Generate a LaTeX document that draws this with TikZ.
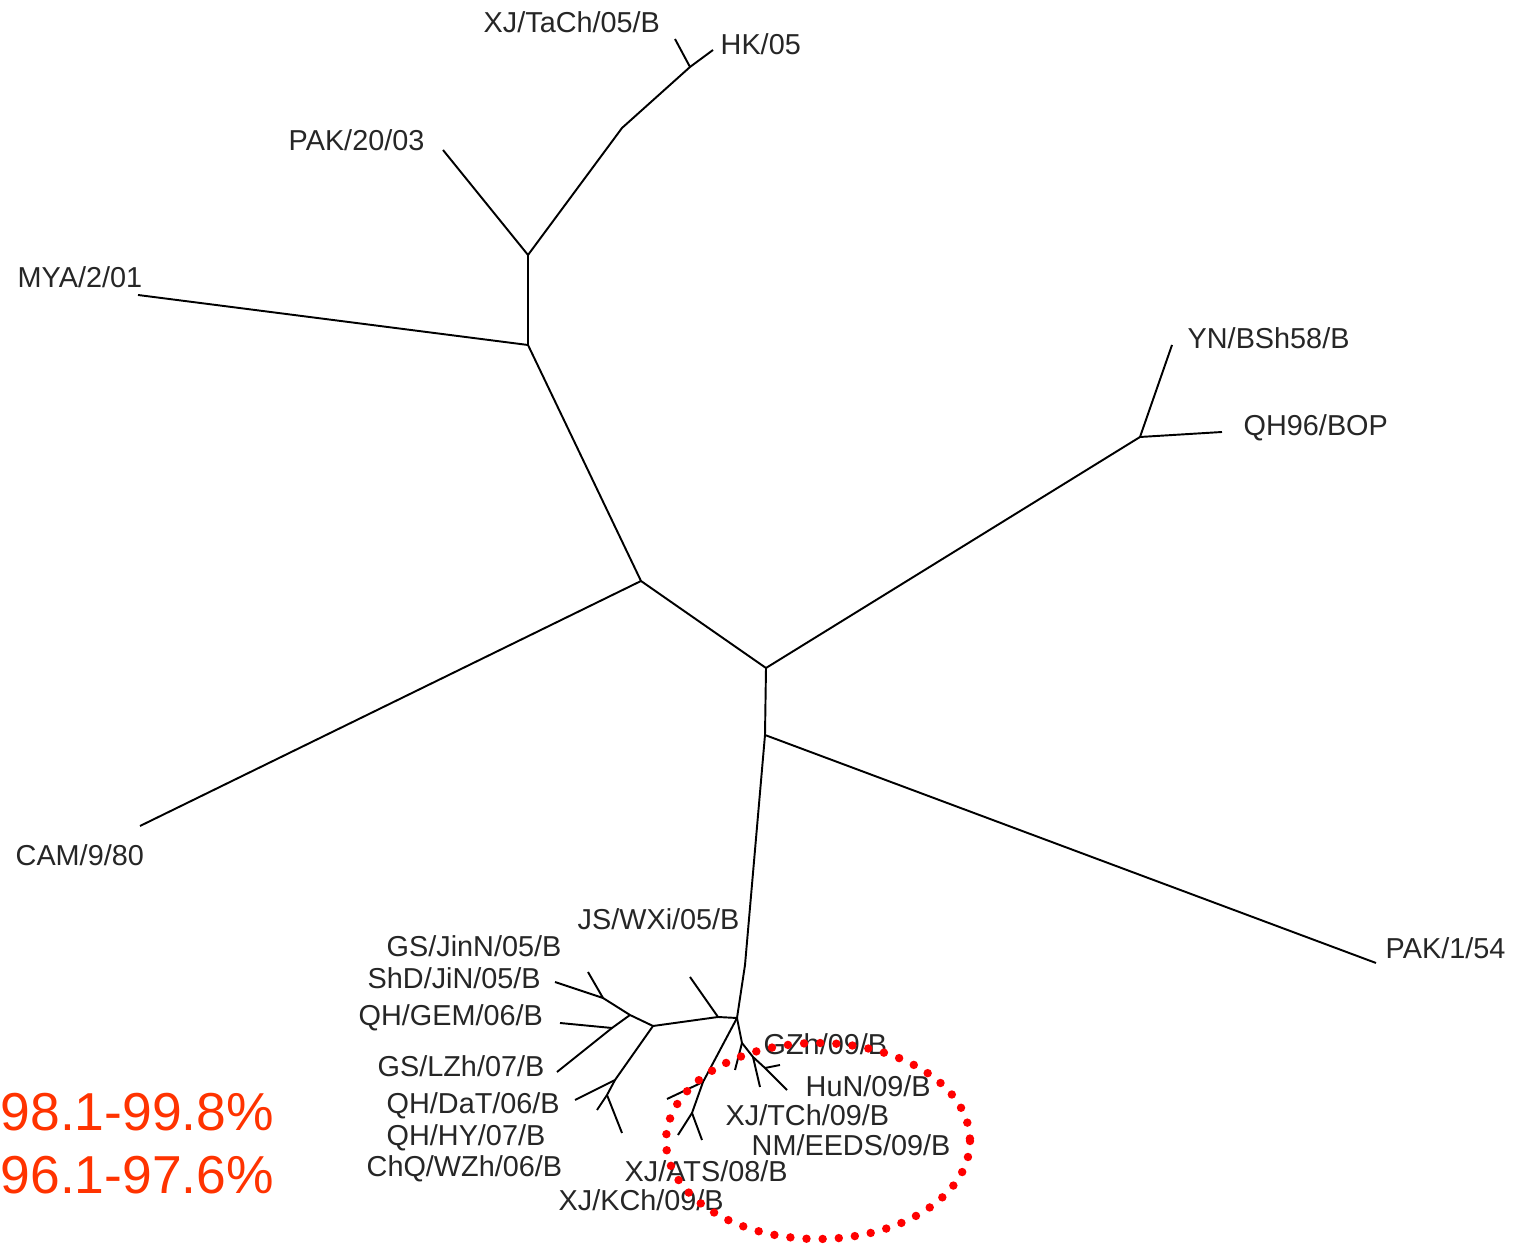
\documentclass[tikz,border=0pt]{standalone}
\usepackage{fontspec}
\setmainfont{Liberation Sans}
\definecolor{pctred}{RGB}{255,51,0}
\begin{document}
\begin{tikzpicture}[x=0.1mm,y=-0.1mm,
  br/.style={line width=0.55pt, black},
  lbl/.style={font=\fontsize{8.2}{9}\selectfont, text=black!85, inner sep=0pt, anchor=west},
  pct/.style={font=\fontsize{15.2}{17}\selectfont, text=pctred, inner sep=0pt, anchor=west},
  ring/.style={red, line width=2.4pt, dash pattern=on 0pt off 4.6pt, line cap=round}]
\fill[white] (0,0) rectangle (1528,1244);
\useasboundingbox (0,0) rectangle (1528,1244);
% internal nodes
\coordinate (A) at (528,255);
\coordinate (B) at (622,128);
\coordinate (Cj) at (690,67);
\coordinate (C) at (528,345);
\coordinate (D) at (641,581);
\coordinate (E) at (766,668);
\coordinate (F) at (1140,437);
\coordinate (G) at (765,735);
\coordinate (G2) at (745,965);
\coordinate (H) at (737,1018);
\coordinate (W) at (718,1017);
\coordinate (I) at (653,1026);
\coordinate (J) at (630,1015);
\coordinate (K) at (603,998);
\coordinate (L) at (612,1028);
\coordinate (M) at (615,1080);
\coordinate (N) at (607,1095);
\coordinate (O) at (703,1082);
\coordinate (P) at (692,1113);
\coordinate (Q) at (742,1043);
\coordinate (R) at (753,1057);
\coordinate (S) at (765,1068);
% tips
\coordinate (tPAKa) at (443,150);
\coordinate (tXJT) at (675,39);
\coordinate (tHK) at (713,50);
\coordinate (tMYA) at (138,295);
\coordinate (tCAM) at (140,826);
\coordinate (tYN) at (1172,345);
\coordinate (tQH) at (1222,432);
\coordinate (tPAKb) at (1376,963);
\coordinate (tJS) at (690,977);
\coordinate (tShD) at (555,982);
\coordinate (tGSJ) at (588,972);
\coordinate (tGEM) at (560,1023);
\coordinate (tLZh) at (557,1072);
\coordinate (tDaT) at (575,1100);
\coordinate (tHY) at (597,1110);
\coordinate (tWZh) at (622,1133);
\coordinate (tATS) at (667,1099);
\coordinate (tP1) at (678,1135);
\coordinate (tP2) at (702,1140);
\coordinate (tGZ) at (735,1070);
\coordinate (tR2) at (760,1087);
\coordinate (tHuN) at (787,1090);
\coordinate (tS) at (780,1065);
% branches
\draw[br] (tPAKa) -- (A) -- (B) -- (Cj) -- (tHK);
\draw[br] (Cj) -- (tXJT);
\draw[br] (A) -- (C) -- (tMYA);
\draw[br] (C) -- (D) -- (tCAM);
\draw[br] (D) -- (E) -- (F) -- (tYN);
\draw[br] (F) -- (tQH);
\draw[br] (E) -- (G) -- (tPAKb);
\draw[br] (G) -- (G2) -- (H);
\draw[br] (H) -- (W) -- (I);
\draw[br] (W) -- (tJS);
\draw[br] (I) -- (J) -- (K) -- (tShD);
\draw[br] (K) -- (tGSJ);
\draw[br] (J) -- (L) -- (tGEM);
\draw[br] (L) -- (tLZh);
\draw[br] (I) -- (M) -- (tDaT);
\draw[br] (M) -- (N) -- (tHY);
\draw[br] (N) -- (tWZh);
\draw[br] (H) -- (O) -- (P) -- (tP1);
\draw[br] (O) -- (tATS);
\draw[br] (P) -- (tP2);
\draw[br] (H) -- (Q) -- (tGZ);
\draw[br] (Q) -- (R) -- (S) -- (tHuN);
\draw[br] (R) -- (tR2);
\draw[br] (S) -- (tS);
% labels
\node[lbl] (lXJT) at (483,22) {XJ/TaCh/05/B};
\node[lbl] (lHK) at (720,44) {HK/05};
\node[lbl] (lPAKa) at (288,140) {PAK/20/03};
\node[lbl] (lMYA) at (17,277) {MYA/2/01};
\node[lbl] (lYN) at (1187,338) {YN/BSh58/B};
\node[lbl] (lQH) at (1243,428) {QH96/BOP};
\node[lbl] (lCAM) at (15,855) {CAM/9/80};
\node[lbl] (lPAKb) at (1385,948) {PAK/1/54};
\node[lbl] (lJS) at (577,919) {JS/WXi/05/B};
\node[lbl] (lGSJ) at (386,946) {GS/JinN/05/B};
\node[lbl] (lShD) at (367,978) {ShD/JiN/05/B};
\node[lbl] (lGEM) at (358,1018) {QH/GEM/06/B};
\node[lbl] (lLZh) at (377,1066) {GS/LZh/07/B};
\node[lbl] (lDaT) at (386,1106) {QH/DaT/06/B};
\node[lbl] (lHY) at (386,1138) {QH/HY/07/B};
\node[lbl] (lWZh) at (366,1169) {ChQ/WZh/06/B};
\node[lbl] (lATS) at (624,1171) {XJ/ATS/08/B};
\node[lbl] (lKCh) at (558,1200) {XJ/KCh/09/B};
\node[lbl] (lGZ) at (763,1044) {GZh/09/B};
\node[lbl] (lHuN) at (805,1086) {HuN/09/B};
\node[lbl] (lTCh) at (725,1115) {XJ/TCh/09/B};
\node[lbl] (lNM) at (751,1145) {NM/EEDS/09/B};
\node[pct] (p1) at (0,1112) {98.1-99.8\%};
\node[pct] (p2) at (0,1175) {96.1-97.6\%};
% dotted ring
\draw[ring] (818,1141) ellipse [x radius=152, y radius=98];
\end{tikzpicture}
\end{document}
